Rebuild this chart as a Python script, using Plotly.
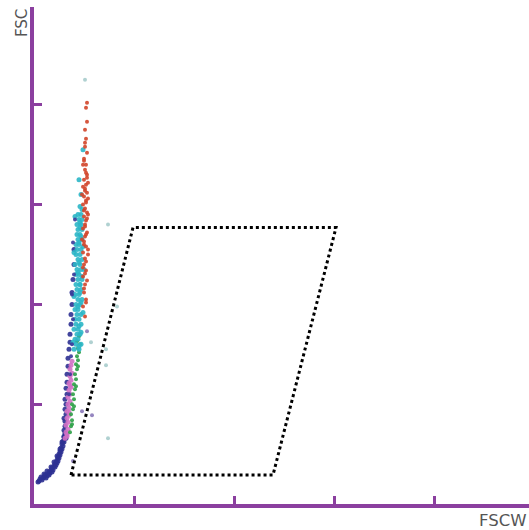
import plotly.graph_objects as go

# ---------------- data (FSCW, FSC) ----------------
blue_x = [0.04,0.05,0.06,0.08,0.09,0.10,0.11,0.12,0.13,0.14,0.15,0.15,0.16,0.17,0.18,0.18,0.19,0.20,0.21,0.21,
          0.22,0.22,0.23,0.23,0.24,0.24,0.25,0.25,0.26,0.26,0.27,0.27,0.28,0.28,0.29,0.29,0.30,0.30,0.31,0.31,
          0.32,0.30,0.31,0.31,0.30,0.32,0.31,0.32,0.31,0.33,0.32,0.33,0.33,0.34,0.34,0.35,0.36,0.36,0.37,0.37,
          0.38,0.38,0.39,0.40,0.40,0.07,0.10,0.13,0.17,0.20,0.23,0.26,0.28,0.30,0.32]
blue_y = [0.22,0.23,0.25,0.24,0.26,0.27,0.29,0.26,0.28,0.30,0.32,0.29,0.31,0.34,0.32,0.36,0.34,0.38,0.40,0.37,
          0.42,0.39,0.44,0.41,0.47,0.43,0.50,0.46,0.53,0.49,0.56,0.52,0.60,0.55,0.63,0.58,0.67,0.62,0.71,0.66,
          0.70,0.74,0.78,0.83,0.86,0.90,0.95,1.00,1.05,1.10,1.16,1.22,1.30,1.38,1.46,1.55,1.62,1.70,1.80,1.90,
          2.00,2.12,2.25,2.40,2.55,0.27,0.30,0.33,0.37,0.42,0.48,0.55,0.62,0.68,0.66]

pink_x = [0.31,0.33,0.32,0.34,0.32,0.34,0.33,0.35,0.33,0.35,0.34,0.36,0.34,0.36,0.35,0.37,0.35,0.37,0.36,0.38,
          0.36,0.37,0.38,0.33,0.35,0.36]
pink_y = [0.66,0.68,0.72,0.75,0.79,0.82,0.86,0.89,0.93,0.96,1.00,1.03,1.07,1.10,1.14,1.17,1.21,1.24,1.28,1.31,
          1.35,1.39,1.43,0.70,0.92,1.19]

green_x = [0.36,0.37,0.38,0.37,0.39,0.38,0.40,0.39,0.41,0.40,0.42,0.41,0.43,0.42,0.44,0.43,0.45,0.44,0.46,0.43,
           0.45,0.38,0.40,0.42,0.44]
green_y = [0.72,0.78,0.84,0.90,0.95,1.00,1.05,1.10,1.15,1.20,1.25,1.30,1.35,1.40,1.44,1.48,1.52,1.56,1.60,1.63,
           1.68,0.80,0.98,1.18,1.38]

cyan_x = [0.40,0.45,0.42,0.47,0.41,0.44,0.43,0.46,0.40,0.44,0.42,0.47,0.41,0.45,0.43,0.47,0.41,0.44,0.42,0.46,
          0.44,0.48,0.41,0.45,0.43,0.47,0.42,0.46,0.44,0.48,0.42,0.45,0.43,0.47,0.41,0.46,0.44,0.48,0.42,0.46,
          0.43,0.47,0.42,0.45,0.44,0.48,0.43,0.46,0.44,0.48,0.43,0.47,0.45,0.48,0.44,0.47,0.46,0.47,0.45,0.49,
          0.39,0.45,0.40,0.44,0.40,0.45,0.46,0.41,0.44,0.46,
          0.47,0.49,0.46,0.48,0.45,0.49,0.47,0.46,0.48,0.50,0.47,0.45]
cyan_y = [1.55,1.55,1.60,1.60,1.65,1.65,1.70,1.70,1.75,1.75,1.80,1.80,1.85,1.85,1.90,1.90,1.95,1.95,2.00,2.00,
          2.05,2.05,2.10,2.10,2.15,2.15,2.20,2.20,2.25,2.25,2.30,2.30,2.35,2.35,2.40,2.40,2.45,2.45,2.50,2.50,
          2.55,2.55,2.60,2.60,2.65,2.65,2.70,2.70,2.75,2.75,2.80,2.80,2.85,2.85,2.90,2.90,2.98,3.10,3.25,3.55,
          1.62,1.78,2.08,2.32,2.52,2.62,2.77,2.88,1.98,2.20,
          1.72,1.92,2.12,2.28,2.42,2.58,2.68,2.82,2.95,2.35,2.02,1.58]

red_x = [0.51,0.49,0.52,0.50,0.51,0.49,0.52,0.50,0.51,0.49,0.52,0.50,0.51,0.53,0.49,0.51,0.52,0.50,0.53,0.51,
         0.49,0.52,0.50,0.53,0.51,0.52,0.50,0.53,0.51,0.52,0.50,0.53,0.51,0.52,0.51,0.53,0.52,0.53,0.54,0.48,
         0.54,0.48,0.54,0.49,
         0.52,0.50,0.53,0.51,0.49,0.52,0.54,0.50,0.52,0.51,0.53,0.50,0.52,0.54,0.51,0.49,0.53,0.52,0.50,0.51]
red_y = [1.88,1.98,2.05,2.12,2.20,2.28,2.34,2.40,2.46,2.52,2.58,2.63,2.68,2.72,2.76,2.80,2.84,2.88,2.92,2.96,
         3.00,3.04,3.08,3.12,3.16,3.20,3.25,3.30,3.35,3.40,3.46,3.52,3.58,3.66,3.75,3.83,3.97,4.02,2.50,2.65,
         2.90,3.10,3.22,3.40,
         2.02,2.16,2.24,2.31,2.37,2.43,2.55,2.60,2.70,2.78,2.86,2.94,3.02,3.06,3.14,3.18,3.27,3.32,3.44,3.62]

navy_x = [0.38,0.39,0.38,0.40,0.39,0.41,0.37,0.36,0.35]
navy_y = [1.60,1.85,2.10,2.30,2.62,2.85,1.48,1.30,1.10]

faint_x = [0.51,0.74,0.83,0.57,0.72,0.72,0.74]
faint_y = [4.25,2.80,1.98,1.62,1.55,1.39,0.66]

violet_x = [0.53,0.48,0.58,0.39]
violet_y = [1.73,0.93,0.89,0.43]

gate_x = [0.37, 0.99, 3.02, 2.39, 0.37]
gate_y = [0.29, 2.77, 2.77, 0.29, 0.29]

x_ticks = [1, 2, 3, 4]
y_ticks = [1, 2, 3, 4, 4.975]

# ---------------- figure ----------------
axis_col = "#8B3F9F"
fig = go.Figure()

def add_pop(xs, ys, col, size=4, op=0.9):
    fig.add_trace(go.Scatter(x=xs, y=ys, mode="markers",
                             marker=dict(color=col, size=size, opacity=op, line=dict(width=0)),
                             hoverinfo="skip", showlegend=False))

add_pop(blue_x, blue_y, "#2E3192", size=5)
add_pop(pink_x, pink_y, "#D070C4", size=5)
add_pop(green_x, green_y, "#2EA047", size=4)
add_pop(cyan_x, cyan_y, "#2BB6C6", size=5)
add_pop(red_x, red_y, "#D2452A", size=4)
add_pop(navy_x, navy_y, "#3A3A9A", size=4)
add_pop(faint_x, faint_y, "#9CC6C6", size=4, op=0.8)
add_pop(violet_x, violet_y, "#7A68B0", size=4, op=0.8)

fig.add_trace(go.Scatter(x=gate_x, y=gate_y, mode="lines",
                         line=dict(color="black", width=3, dash="dot"),
                         hoverinfo="skip", showlegend=False))

fig.update_layout(
    width=529, height=530,
    margin=dict(l=34, r=0, t=7, b=26),
    paper_bgcolor="white", plot_bgcolor="white",
    xaxis=dict(range=[0, 4.95], showgrid=False, zeroline=False, showline=True,
               linecolor=axis_col, linewidth=4, ticks="inside", ticklen=8,
               tickwidth=3, tickcolor=axis_col, tickvals=x_ticks, showticklabels=False),
    yaxis=dict(range=[0, 4.98], showgrid=False, zeroline=False, showline=True,
               linecolor=axis_col, linewidth=4, ticks="inside", ticklen=8,
               tickwidth=3, tickcolor=axis_col, tickvals=y_ticks, showticklabels=False),
    annotations=[
        dict(text="FSC", xref="paper", yref="paper", x=-0.024, y=1.0,
             xanchor="center", yanchor="top",
             textangle=-90, showarrow=False, font=dict(size=15, color="#555555", family="DejaVu Sans")),
        dict(text="FSCW", xref="paper", yref="paper", x=1.0, y=-0.056,
             xanchor="right", yanchor="bottom",
             showarrow=False, font=dict(size=16.5, color="#555555", family="DejaVu Sans")),
    ],
)

fig.write_html("out.html", config={"displayModeBar": False},
               post_script="document.body.style.margin='0';")
